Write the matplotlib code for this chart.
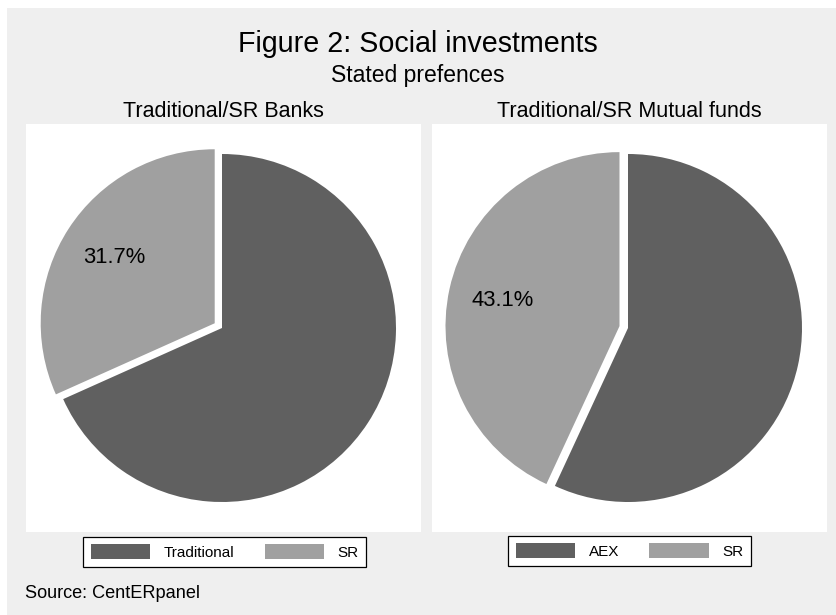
import matplotlib
matplotlib.use("Agg")
import matplotlib.pyplot as plt
from matplotlib.patches import Rectangle, Patch
import numpy as np

plt.rcParams["font.family"] = ["Liberation Sans", "DejaVu Sans"]

# --- data -------------------------------------------------------------
title = "Figure 2: Social investments"
subtitle = "Stated prefences"
source = "Source: CentERpanel"

bank_title = "Traditional/SR Banks"
bank_labels = ["Traditional", "SR"]
bank_shares = [68.3, 31.7]

fund_title = "Traditional/SR Mutual funds"
fund_labels = ["AEX", "SR"]
fund_shares = [56.9, 43.1]

# --- styling ----------------------------------------------------------
W, H = 836, 615
BG = "#efefef"
DARK = "#606060"
LIGHT = "#a0a0a0"
RADIUS_PX = 174.0


def fx(x):
    return x / W


def fy(y):
    return 1 - y / H


fig = plt.figure(figsize=(W / 100, H / 100), dpi=100, facecolor="white")
fig.patches.append(Rectangle((fx(7), 0), 1 - fx(7), fy(8), transform=fig.transFigure,
                             facecolor=BG, edgecolor="none", zorder=-10))

fig.text(fx(418), fy(52), title, ha="center", va="baseline", fontsize=20.6)
fig.text(fx(418), fy(82), subtitle, ha="center", va="baseline", fontsize=16.5)
fig.text(fx(25), fy(598), source, ha="left", va="baseline", fontsize=13.1)


def draw_panel(x0, x1, y0, y1, cx, cy, shares, labels, heading, legend_center):
    ax = fig.add_axes([fx(x0), fy(y1), (x1 - x0) / W, (y1 - y0) / H])
    explode = [0.0, 0.05]
    wedges, _ = ax.pie(shares, colors=[DARK, LIGHT], startangle=90, counterclock=False,
                       explode=explode, radius=1.0,
                       wedgeprops=dict(linewidth=0))
    ax.set_aspect("auto")
    ax.set_frame_on(True)
    for s in ax.spines.values():
        s.set_visible(False)
    ax.set_facecolor("white")
    ax.set_xlim(-(cx - x0) / RADIUS_PX, (x1 - cx) / RADIUS_PX)
    ax.set_ylim(-(y1 - cy) / RADIUS_PX, (cy - y0) / RADIUS_PX)
    ax.set_xticks([])
    ax.set_yticks([])

    # percentage label on the exploded slice
    w = wedges[1]
    ang = np.deg2rad((w.theta1 + w.theta2) / 2)
    c = w.center
    ax.text(c[0] + 0.69 * np.cos(ang), c[1] + 0.69 * np.sin(ang),
            f"{shares[1]:.1f}%", ha="center", va="center", fontsize=15.8)

    fig.text(fx((x0 + x1) / 2), fy(117), heading, ha="center", va="baseline", fontsize=15.5)

    handles = [Patch(facecolor=DARK, edgecolor="none"), Patch(facecolor=LIGHT, edgecolor="none")]
    leg = fig.legend(handles, labels, loc="center",
                     bbox_to_anchor=(fx(legend_center[0]), fy(legend_center[1])),
                     ncol=2, fontsize=11, frameon=True, fancybox=False,
                     handlelength=3.9, handleheight=1.1, handletextpad=0.85,
                     columnspacing=2.0, borderpad=0.5, borderaxespad=0)
    leg.get_frame().set_edgecolor("black")
    leg.get_frame().set_linewidth(0.9)
    leg.get_frame().set_facecolor("white")
    leg.get_frame().set_alpha(1)


draw_panel(26, 421, 124, 532, 222, 328, bank_shares, bank_labels, bank_title, (224.5, 552))
draw_panel(432, 827, 124, 532, 628, 328, fund_shares, fund_labels, fund_title, (629.5, 551))

fig.savefig("out.png", dpi=100, facecolor=fig.get_facecolor())
